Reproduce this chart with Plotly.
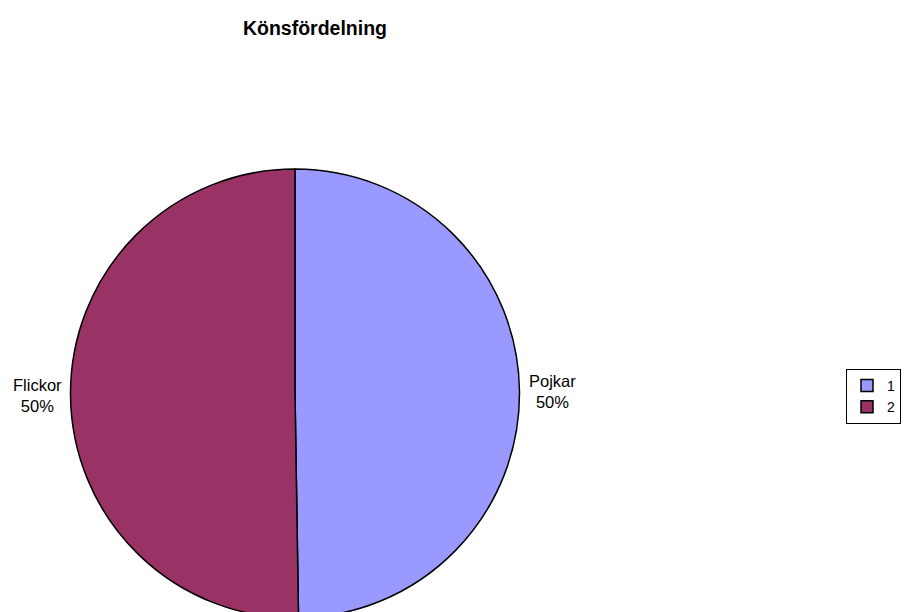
import math
import plotly.graph_objects as go

legend_labels = ["1", "2"]
names = ["Pojkar", "Flickor"]
values = [199, 201]
colors = ["#9999FF", "#993366"]

W, H = 902, 630
cx, cy, r = 287.0, 385.5, 224.5  # pie centre / radius in figure pixels

fig = go.Figure(go.Pie(
    labels=legend_labels,
    values=values,
    textinfo="none",
    marker=dict(colors=colors, line=dict(color="#000000", width=1.5)),
    sort=False,
    direction="clockwise",
    rotation=0,
    showlegend=True,
    hoverinfo="none",
    domain=dict(x=[(cx - r) / W, (cx + r) / W], y=[1 - (cy + r) / H, 1 - (cy - r) / H]),
))

# outside labels at each slice's mid-angle
total = sum(values)
acc = 0.0
for name, v in zip(names, values):
    mid = (acc + v / 2) / total * 2 * math.pi
    acc += v
    lx = cx + 1.145 * r * math.sin(mid)
    ly = cy - 1.145 * r * math.cos(mid)
    fig.add_annotation(
        x=lx / W, y=1 - ly / H, xref="paper", yref="paper",
        text=f"{name}<br>{round(v / total * 100)}%", showarrow=False,
        xanchor="center", yanchor="middle", align="center",
        font=dict(family="Liberation Sans, Arial", size=16.5, color="#000000"),
    )

fig.update_layout(
    width=W, height=H,
    margin=dict(l=0, r=0, t=0, b=0),
    paper_bgcolor="white",
    plot_bgcolor="white",
    font=dict(family="Liberation Sans, Arial", size=14, color="#000000"),
    title=dict(text="<b>Könsfördelning</b>", x=307 / W, xanchor="center",
               y=1 - 20 / H, yanchor="middle",
               font=dict(family="Liberation Sans, Arial", size=19.5, color="#000000")),
    legend=dict(x=893 / W, xanchor="right", y=1 - 361 / H, yanchor="top",
                bordercolor="#000000", borderwidth=1, bgcolor="white",
                font=dict(family="Liberation Sans, Arial", size=14),
                itemwidth=30, tracegroupgap=0),
)

fig.write_html("out.html")
